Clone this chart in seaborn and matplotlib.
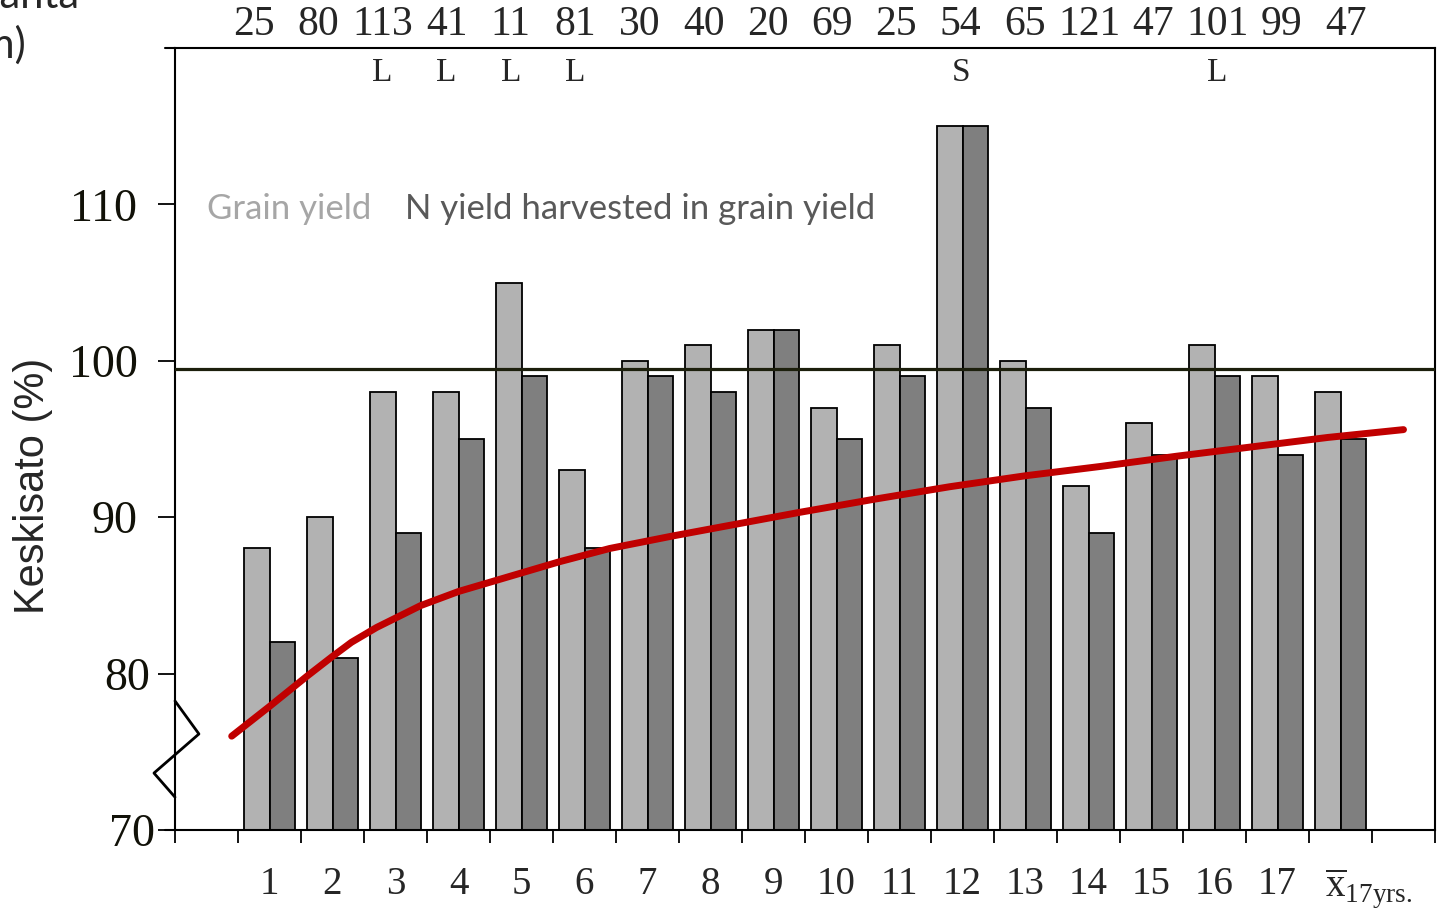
import numpy as np
import pandas as pd
import matplotlib
matplotlib.use('Agg')
import matplotlib.pyplot as plt
import matplotlib.transforms as mtransforms
import seaborn as sns

# data
groups = [str(i) for i in range(1, 18)] + ['mean']
grain_yield = [88, 90, 98, 98, 105, 93, 100, 101, 102, 97, 101, 115, 100, 92, 96, 101, 99, 98]
n_yield = [82, 81, 89, 95, 99, 88, 99, 98, 102, 95, 99, 115, 97, 89, 94, 99, 94, 95]
rain_mm = [25, 80, 113, 41, 11, 81, 30, 40, 20, 69, 25, 54, 65, 121, 47, 101, 99, 47]
flags = ['', '', 'L', 'L', 'L', 'L', '', '', '', '', '', 'S', '', '', '', 'L', '', '']
x_labels = [str(i) for i in range(1, 18)] + [r'$\overline{\mathrm{x}}_{\mathrm{17yrs.}}$']
y_ticks = [70, 80, 90, 100, 110]

# red trend line, x in group units (group 1 = 0)
trend_x = [-0.6, 0.0, 0.6, 1.0, 1.3, 1.7, 2.4, 3.0, 3.8, 4.6, 5.4, 6.4, 7.4, 8.4, 9.6,
           10.8, 12.0, 13.2, 14.4, 15.6, 16.8, 18.0]
trend_y = [76.0, 77.9, 79.85, 81.1, 82.0, 82.95, 84.35, 85.25, 86.2, 87.15, 88.0, 88.8, 89.55,
           90.3, 91.15, 91.95, 92.65, 93.25, 93.9, 94.5, 95.1, 95.6]
ref_level = 99.5

light = '#B2B2B2'
dark = '#7F7F7F'

df = pd.DataFrame({
    'group': groups * 2,
    'value': grain_yield + n_yield,
    'series': ['Grain yield'] * len(groups) + ['N yield'] * len(groups),
})

sns.set_theme(style='white')
plt.rcParams['font.family'] = ['Liberation Serif', 'DejaVu Serif']
plt.rcParams['mathtext.fontset'] = 'custom'
plt.rcParams['mathtext.rm'] = 'Liberation Serif'

fig = plt.figure(figsize=(14.39, 9.14), dpi=100)
ax = fig.add_axes([175 / 1439, 1 - 830 / 914, 1260 / 1439, 782 / 914])

sns.barplot(data=df, x='group', y='value', hue='series', palette=[light, dark],
            width=0.8, saturation=1, edgecolor='black', linewidth=1.3,
            errorbar=None, legend=False, ax=ax, zorder=2)

ax.axhline(ref_level, color='#1c1f0c', lw=2.3, zorder=3)
ax.plot(trend_x, trend_y, color='#C00000', lw=5, solid_capstyle='round', zorder=4)

ax.set_xlim(-1.5, 18.5)
ax.set_ylim(70, 120)
ax.set_xlabel('')
ax.set_ylabel('Keskisato (%)', fontsize=30, family=['Liberation Sans', 'DejaVu Sans'])
ax.yaxis.set_label_coords(-0.097, 0.44)

ax.set_xticks(range(len(groups)))
ax.set_xticklabels(x_labels, fontsize=28)
ax.set_xticks(np.arange(-1.5, 19, 1), minor=True)
ax.tick_params(axis='x', which='major', length=0, pad=26)
ax.tick_params(axis='x', which='minor', length=9, width=1.3, direction='out', color='black',
               bottom=True)
ax.set_yticks(y_ticks)
ax.set_yticklabels([str(v) for v in y_ticks], fontsize=33, color='#111108')
ax.tick_params(axis='y', length=12, width=1.3, direction='out', color='black', pad=15, left=True)

# lower labels sit a bit to the right in the original
for lab in ax.get_yticklabels():
    dx = {'80': 13, '70': 17}.get(lab.get_text(), 0)
    if dx:
        lab.set_transform(lab.get_transform() + mtransforms.ScaledTranslation(dx / 100, 0, fig.dpi_scale_trans))

# mean label starts right of its group centre
mean_lab = ax.get_xticklabels()[-1]
mean_lab.set_transform(mean_lab.get_transform() + mtransforms.ScaledTranslation(0.28, 0, fig.dpi_scale_trans))

for s in ax.spines.values():
    s.set_visible(True)
    s.set_color('black')
    s.set_linewidth(1.5)

# top and bottom lines poke out a little to the left
for yy in (0, 1):
    ax.plot([-0.008, 0], [yy, yy], transform=ax.transAxes, color='black', lw=1.5, clip_on=False)

# axis break mark
brk = mtransforms.blended_transform_factory(ax.transAxes, ax.transData)
ax.plot([0.0, 0.019, -0.0167, 0.0], [78.25, 76.14, 73.64, 72.1], transform=brk,
        color='black', lw=2, clip_on=False, zorder=5)

# rainfall numbers above the plot and soil letters below the top line
top = mtransforms.blended_transform_factory(ax.transData, ax.transAxes)
top_x = -0.25 + np.arange(len(groups)) * 1.02
for xx, r, f in zip(top_x, rain_mm, flags):
    ax.text(xx, 1.03, str(r), transform=top, ha='center', va='center', fontsize=30)
    if f:
        ax.text(xx, 0.968, f, transform=top, ha='center', va='center', fontsize=24)

# legend-like labels
ax.text(-0.99, 109.7, 'Grain yield', color='#A6A6A6', fontsize=25, va='center',
        family=['Lato', 'DejaVu Sans'])
ax.text(2.15, 109.7, 'N yield harvested in grain yield', color='#595959', fontsize=25,
        va='center', family=['Lato', 'DejaVu Sans'])

# clipped axis title at the top left
fig.text(80 / 1439, 1 - 8 / 914, 'Sadanta', ha='right', va='baseline', fontsize=30,
         family=['Lato', 'DejaVu Sans'])
fig.text(26 / 1439, 1 - 58 / 914, '(mm)', ha='right', va='baseline', fontsize=30,
         family=['Lato', 'DejaVu Sans'])

fig.savefig('out.png', dpi=100)
